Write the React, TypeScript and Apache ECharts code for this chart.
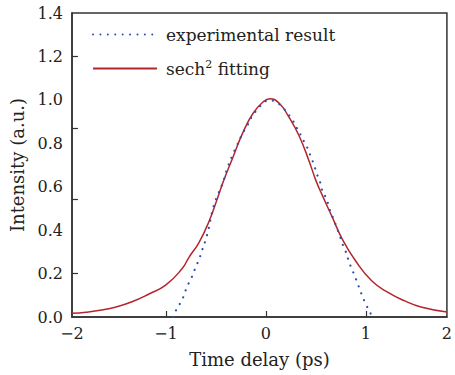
import React, { useEffect, useRef } from "react";
import * as echarts from "echarts";

// Experimental result (dotted blue): [time delay (ps), intensity]
const expTime = [-0.93, -0.894, -0.855, -0.82, -0.79, -0.755, -0.72, -0.69, -0.66, -0.637, -0.607, -0.584, -0.567, -0.55, -0.53, -0.51, -0.475, -0.43, -0.39, -0.33, -0.29, -0.228, -0.188, -0.145, -0.096, -0.036, 0.03, 0.1, 0.168, 0.218, 0.267, 0.307, 0.35, 0.383, 0.426, 0.45, 0.482, 0.508, 0.538, 0.557, 0.597, 0.624, 0.647, 0.68, 0.706, 0.736, 0.762, 0.795, 0.822, 0.851, 0.881, 0.911, 0.941, 0.97, 1.003, 1.043, 1.055];
const expIntensity = [0.0, 0.036, 0.066, 0.1, 0.14, 0.17, 0.21, 0.243, 0.277, 0.31, 0.35, 0.387, 0.42, 0.46, 0.5, 0.53, 0.57, 0.62, 0.68, 0.75, 0.79, 0.85, 0.88, 0.92, 0.95, 0.98, 0.998, 0.99, 0.964, 0.937, 0.906, 0.872, 0.836, 0.806, 0.767, 0.736, 0.7, 0.66, 0.628, 0.59, 0.551, 0.518, 0.482, 0.447, 0.413, 0.378, 0.34, 0.305, 0.267, 0.23, 0.197, 0.162, 0.125, 0.089, 0.055, 0.02, 0.0];

// sech^2 fitting (solid red)
const fitTime = [-1.94, -1.8, -1.66, -1.5, -1.34, -1.17, -1.0, -0.84, -0.77, -0.67, -0.57, -0.475, -0.43, -0.33, -0.23, -0.13, -0.03, 0.04, 0.135, 0.23, 0.33, 0.43, 0.5, 0.564, 0.663, 0.762, 0.894, 1.06, 1.225, 1.39, 1.55, 1.81];
const fitIntensity = [0.017, 0.022, 0.031, 0.046, 0.07, 0.106, 0.148, 0.222, 0.275, 0.343, 0.44, 0.56, 0.62, 0.736, 0.85, 0.937, 0.99, 1.005, 0.983, 0.92, 0.836, 0.72, 0.628, 0.56, 0.46, 0.36, 0.26, 0.166, 0.112, 0.074, 0.046, 0.023];

const xLabelValues = [-1.94, -1, 0, 1, 1.81];
const xTickValues = [-1, 0, 1];
const yTickValues = [0.2, 0.54, 0.87, 1.2];

const seriesNames = ["experimental result", "sech2 fitting"];

const FONT = "DejaVu Serif";

export default function App() {
  const ref = useRef<HTMLDivElement>(null);
  useEffect(() => {
    document.body.style.margin = "0";
    const chart = echarts.init(ref.current!, null, { renderer: "svg" });
    const expData = expTime.map((t, i) => [t, expIntensity[i]]);
    const fitData = fitTime.map((t, i) => [t, fitIntensity[i]]);
    chart.setOption({
      animation: false,
      grid: {
        left: 72,
        right: 4,
        top: 13,
        bottom: 58,
        show: true,
        borderColor: "#333",
        borderWidth: 1.5,
        backgroundColor: "transparent",
      },
      legend: {
        orient: "vertical",
        left: 92,
        top: 26,
        padding: 0,
        itemWidth: 64,
        itemHeight: 18,
        itemGap: 16,
        data: seriesNames,
        itemStyle: { opacity: 0 },
        formatter: (name: string) =>
          name === "sech2 fitting" ? "sech{sup|2} fitting" : name,
        textStyle: {
          fontFamily: FONT,
          fontSize: 17,
          color: "#222",
          padding: [0, 0, 0, 4],
          rich: {
            sup: {
              fontFamily: FONT,
              fontSize: 11,
              verticalAlign: "top",
              padding: [0, 0, 8, 0],
              color: "#222",
            },
          },
        },
      },
      xAxis: {
        type: "value",
        min: -1.94,
        max: 1.81,
        name: "Time delay (ps)",
        nameLocation: "middle",
        nameGap: 33,
        nameTextStyle: { fontFamily: FONT, fontSize: 18, color: "#222" },
        splitLine: { show: false },
        axisLine: { show: true, onZero: false, lineStyle: { color: "#333", width: 1.5 } },
        axisTick: {
          show: true,
          inside: true,
          length: 6,
          customValues: xTickValues,
          lineStyle: { color: "#333", width: 1.2 },
        },
        axisLabel: {
          customValues: xLabelValues,
          margin: 8,
          fontFamily: FONT,
          fontSize: 16,
          color: "#222",
          formatter: (v: number) => {
            const r = Math.round(v);
            return r < 0 ? "\u2212" + Math.abs(r) : String(r);
          },
        },
      },
      yAxis: {
        type: "value",
        min: 0,
        max: 1.4,
        interval: 0.2,
        name: "Intensity (a.u.)",
        nameLocation: "middle",
        nameGap: 46,
        nameTextStyle: { fontFamily: FONT, fontSize: 18, color: "#222" },
        splitLine: { show: false },
        axisLine: { show: true, onZero: false, lineStyle: { color: "#333", width: 1.5 } },
        axisTick: {
          show: true,
          inside: true,
          length: 6,
          customValues: yTickValues,
          lineStyle: { color: "#333", width: 1.2 },
        },
        axisLabel: {
          margin: 9,
          fontFamily: FONT,
          fontSize: 16,
          color: "#222",
          formatter: (v: number) => v.toFixed(1),
        },
      },
      series: [
        {
          name: seriesNames[0],
          type: "line",
          data: expData,
          smooth: true,
          symbol: "none",
          z: 3,
          lineStyle: {
            color: "#2b50b0",
            width: 2.2,
            type: [0.01, 7.4],
            cap: "round",
          },
          itemStyle: { color: "#2b50b0" },
        },
        {
          name: seriesNames[1],
          type: "line",
          data: fitData,
          smooth: true,
          symbol: "none",
          z: 2,
          lineStyle: { color: "#b3262c", width: 1.5 },
          itemStyle: { color: "#b3262c" },
        },
      ],
    });
    return () => chart.dispose();
  }, []);
  return <div ref={ref} style={{ width: 455, height: 375 }} />;
}
